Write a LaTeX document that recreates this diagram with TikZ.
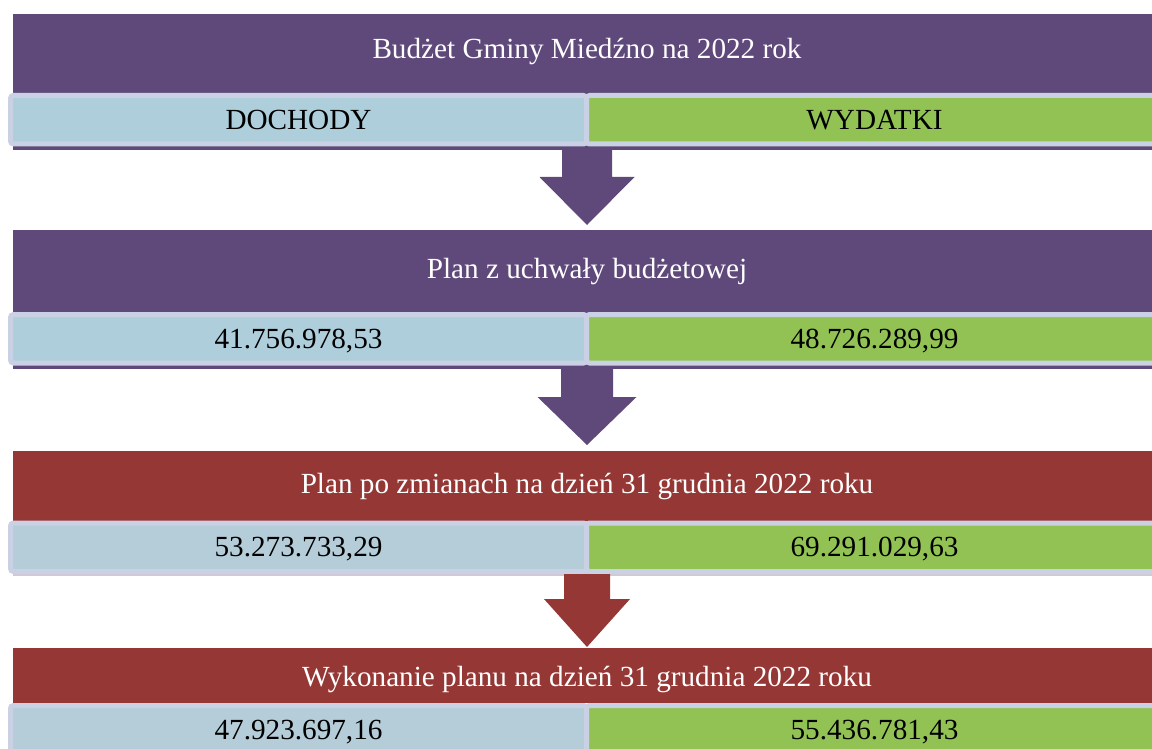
\documentclass[tikz,border=0pt]{standalone}
\usepackage{fontspec}
\setmainfont{Liberation Serif}
\usepackage{xcolor}
\usetikzlibrary{calc,positioning}
\definecolor{fiolet}{HTML}{5F497A}
\definecolor{czerwien}{HTML}{953735}
\definecolor{niebieski}{HTML}{AFCEDB}
\definecolor{niebieskiB}{HTML}{B5CDD8}
\definecolor{zielony}{HTML}{92C253}
\definecolor{lawenda}{HTML}{CAD1E4}
\definecolor{pasekC}{HTML}{D3C9D4}
\tikzset{
  naglowek/.style={rectangle,inner sep=0pt,outer sep=0pt,minimum width=574pt,
    text=white,font=\fontsize{14.6}{17}\selectfont,text height=10.2pt,text depth=2.9pt},
  kwota/.style={rectangle,draw=lawenda,line width=2.5pt,rounded corners=1.5pt,
    minimum width=288pt,minimum height=24.25pt,inner sep=0pt,outer sep=0pt,
    font=\fontsize{14.6}{17}\selectfont,text height=13.1pt,text depth=3.5pt}
}
\newcommand{\strzalka}[6]{%
  \fill[#3] ($(#1)+(-#4,0)$) -- ($(#2)+(-#4,-#6-48)$) -- ($(#2)+(-#5,-#6-48)$)
    -- ($(#2)+(0,-#6)$) -- ($(#2)+(#5,-#6-48)$) -- ($(#2)+(#4,-#6-48)$)
    -- ($(#1)+(#4,0)$) -- cycle;}

\begin{document}
\begin{tikzpicture}[x=0.5pt,y=-0.5pt]
\useasboundingbox (0,0) rectangle (1152,749);
\clip (0,0) rectangle (1152,749);
%----------------blok 1----------
\node[naglowek,fill=fiolet,minimum height=39.5pt,text height=7.7pt] (budzet) at (587,53.5) {Budżet Gminy Miedźno na 2022 rok};
\fill[fiolet] (budzet.south west) rectangle ($(budzet.south east)+(0,57)$);
\coordinate (pasek1) at ($(budzet.south)+(0,57)$);
\node[kwota,fill=niebieski,anchor=north west] (doch1) at ($(budzet.south west)+(-2.5,2.5)$) {DOCHODY};
\node[kwota,fill=zielony,right=0pt of doch1] (wyd1) {WYDATKI};
%----------------blok 2----------
\node[naglowek,fill=fiolet,minimum height=41pt] (plan) at (587,271) {Plan z uchwały budżetowej};
\fill[fiolet] (plan.south west) rectangle ($(plan.south east)+(0,57)$);
\coordinate (pasek2) at ($(plan.south)+(0,57)$);
\node[kwota,fill=niebieski,anchor=north west] (doch2) at ($(plan.south west)+(-2.5,2.5)$) {41.756.978,53};
\node[kwota,fill=zielony,right=0pt of doch2] (wyd2) {48.726.289,99};
%----------------blok 3----------
\node[naglowek,fill=czerwien,minimum height=34.75pt] (zmiany) at (587,485.75) {Plan po zmianach na dzień 31 grudnia 2022 roku};
\fill[pasekC] (zmiany.south west) rectangle ($(zmiany.south east)+(0,55.5)$);
\node[kwota,fill=niebieskiB,anchor=north west] (doch3) at ($(zmiany.south west)+(-2.5,2.5)$) {53.273.733,29};
\node[kwota,fill=zielony,right=0pt of doch3] (wyd3) {69.291.029,63};
\coordinate (pasek3) at ($(zmiany.south)+(0,53.5)$);
%----------------blok 4----------
\node[naglowek,fill=czerwien,minimum height=27.5pt,text height=13.4pt] (wykonanie) at (587,675.5) {Wykonanie planu na dzień 31 grudnia 2022 roku};
\node[kwota,fill=niebieskiB,anchor=north west] (doch4) at ($(wykonanie.south west)+(-2.5,2.5)$) {47.923.697,16};
\node[kwota,fill=zielony,right=0pt of doch4] (wyd4) {55.436.781,43};
%----------------strzalki----------
\strzalka{pasek1}{plan.north}{fiolet}{25}{47.5}{5}
\strzalka{pasek2}{zmiany.north}{fiolet}{26}{49.5}{6}
\strzalka{pasek3}{wykonanie.north}{czerwien}{23}{43}{1}
\end{tikzpicture}
\end{document}
